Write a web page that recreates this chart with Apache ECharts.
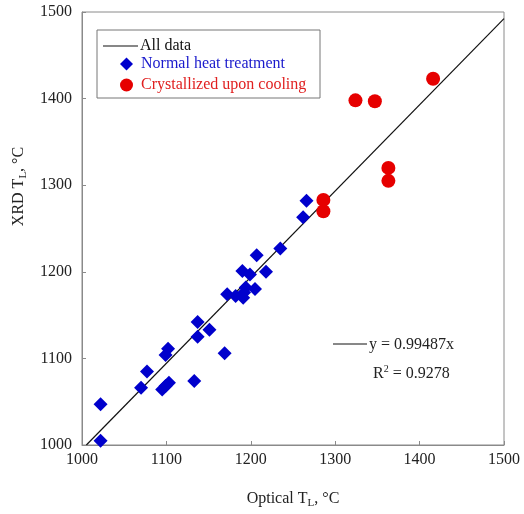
<!DOCTYPE html>
<html>
<head>
<meta charset="utf-8">
<script src="https://cdn.jsdelivr.net/npm/echarts@6/dist/echarts.min.js"></script>
<style>html,body{margin:0;padding:0;background:#fff;}#c{width:524px;height:514px;}</style>
</head>
<body>
<div id="c"></div>
<script>
// Optical T_L vs XRD T_L
var normalX = [1022, 1022, 1070, 1077, 1095, 1099, 1103, 1099, 1102, 1133, 1137, 1137, 1151, 1169, 1172, 1182, 1191, 1190, 1194, 1192, 1199, 1205, 1207, 1218, 1235, 1262, 1266];
var normalY = [1047, 1005, 1066, 1085, 1064, 1068, 1072, 1104, 1111, 1074, 1142, 1125, 1133, 1106, 1174, 1172, 1170, 1201, 1182, 1176, 1197, 1180, 1219, 1200, 1227, 1263, 1282];
var crystX = [1324, 1347, 1416, 1363, 1363, 1286, 1286];
var crystY = [1398, 1397, 1423, 1320, 1305, 1283, 1270];
var slope = 0.99487;
var r2 = 0.9278;
var axisTicks = [1000, 1100, 1200, 1300, 1400, 1500];

var serif = '"Liberation Serif", "Times New Roman", serif';
function pairs(xs, ys){ return xs.map(function(x,i){ return [x, ys[i]]; }); }
var fitLine = [[axisTicks[0] / slope, axisTicks[0]], [axisTicks[axisTicks.length-1], axisTicks[axisTicks.length-1] * slope]];

var chart = echarts.init(document.getElementById('c'));
var axisCommon = {
  type: 'value', min: axisTicks[0], max: axisTicks[axisTicks.length-1], interval: 100,
  axisLine: {show: true, lineStyle: {color: '#8a8a8a', width: 1}},
  axisTick: {show: true, inside: true, length: 4, lineStyle: {color: '#8a8a8a'}},
  splitLine: {show: false},
  axisLabel: {fontFamily: serif, fontSize: 16, color: '#222', formatter: function(v){ return String(v); }},
  nameLocation: 'middle',
  nameTextStyle: {fontFamily: serif, fontSize: 16, color: '#222'}
};
chart.setOption({
  animation: false,
  backgroundColor: '#fff',
  grid: {left: 82, top: 12, right: 20, bottom: 65, show: true, borderColor: '#8a8a8a', borderWidth: 1},
  xAxis: Object.assign({}, axisCommon, {
    axisLabel: Object.assign({}, axisCommon.axisLabel, {margin: 7}),
    name: '{a|Optical T}{s|L}{a|, °C}', nameGap: 44,
    nameTextStyle: {rich: {a: {fontFamily: serif, fontSize: 16, color: '#222'}, s: {fontFamily: serif, fontSize: 11, color: '#222', padding: [9, 0, 0, 0]}}}
  }),
  yAxis: Object.assign({}, axisCommon, {
    axisLabel: Object.assign({}, axisCommon.axisLabel, {margin: 10}),
    name: '{a|XRD T}{s|L}{a|, °C}', nameGap: 52, nameRotate: 90,
    nameTextStyle: {padding: [0, 0, 0, 84], rich: {a: {fontFamily: serif, fontSize: 16, color: '#222'}, s: {fontFamily: serif, fontSize: 11, color: '#222', padding: [9, 0, 0, 0]}}}
  }),
  graphic: [
    {type: 'rect', z: 1, shape: {x: 97, y: 30, width: 223, height: 68}, style: {fill: '#fff', stroke: '#777', lineWidth: 1}},
    {type: 'line', z: 5, shape: {x1: 333, y1: 344, x2: 367, y2: 344}, style: {stroke: '#111', lineWidth: 1}},
    {type: 'text', z: 5, style: {x: 369, y: 345, text: 'y = ' + slope + 'x', font: '16px ' + serif, fill: '#222', textVerticalAlign: 'middle'}},
    {type: 'text', z: 5, style: {x: 373, y: 374, text: '{a|R}{p|2}{a| = ' + r2 + '}', fill: '#222', textVerticalAlign: 'middle',
      rich: {a: {fontFamily: serif, fontSize: 16, color: '#222'}, p: {fontFamily: serif, fontSize: 10, color: '#222', padding: [0, 0, 9, 0]}}}}
  ],
  legend: [
    {data: [{name: 'All data', icon: 'rect'}], left: 103, top: 38, itemWidth: 35, itemHeight: 1.2, itemGap: 0, padding: 0, z: 6,
     itemStyle: {color: '#111', borderWidth: 0},
     textStyle: {fontFamily: serif, fontSize: 16, color: '#111', padding: [0, 0, 0, -3]}},
    {data: [{name: 'Normal heat treatment', textStyle: {color: '#1a1acc'}}, {name: 'Crystallized upon cooling', textStyle: {color: '#e02020'}}],
     orient: 'vertical', left: 120, top: 56, itemWidth: 13, itemHeight: 13, itemGap: 5, padding: 0, z: 6,
     textStyle: {fontFamily: serif, fontSize: 16, lineHeight: 14, padding: [0, 0, 0, 3]}}
  ],
  series: [
    {name: 'All data', type: 'line', data: fitLine, symbol: 'none', lineStyle: {color: '#111', width: 1.2}, itemStyle: {color: '#111'}, z: 2},
    {name: 'Normal heat treatment', type: 'scatter', symbol: 'diamond', symbolSize: 14, data: pairs(normalX, normalY), itemStyle: {color: '#0000cc', opacity: 1}, z: 3},
    {name: 'Crystallized upon cooling', type: 'scatter', symbol: 'circle', symbolSize: 14, data: pairs(crystX, crystY), itemStyle: {color: '#e60000', opacity: 1}, z: 3}
  ]
});
</script>
</body>
</html>
